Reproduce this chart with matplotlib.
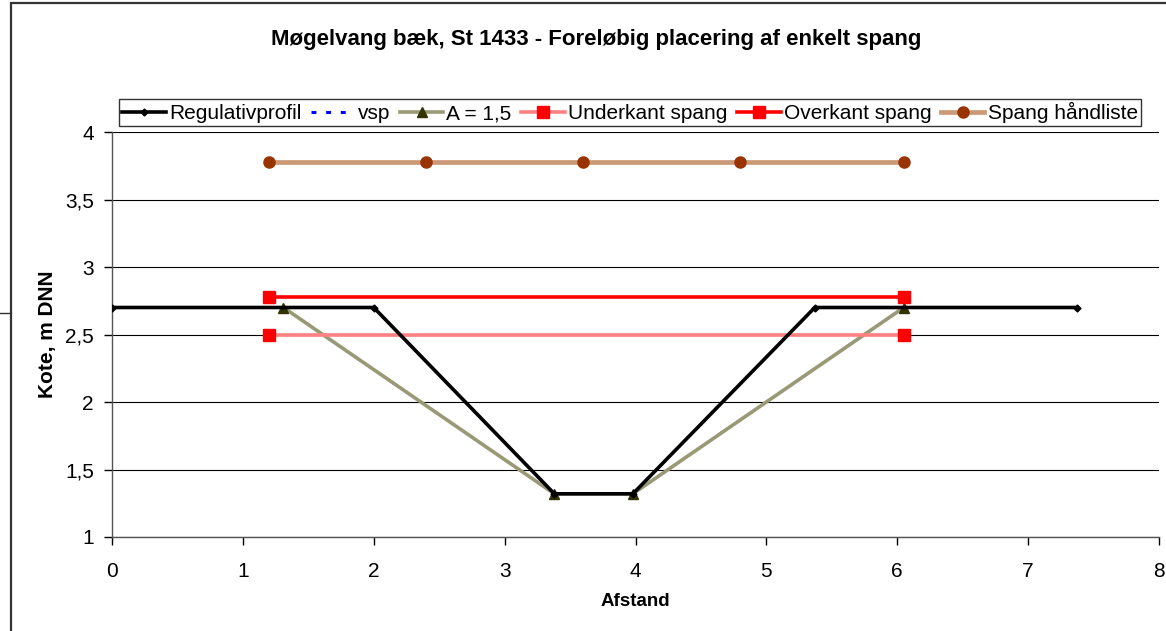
import matplotlib
matplotlib.use("Agg")
import matplotlib.pyplot as plt
from matplotlib.lines import Line2D
from matplotlib.patches import Rectangle

plt.rcParams['font.family'] = ['Liberation Sans', 'DejaVu Sans']

title = "Møgelvang bæk, St 1433 - Foreløbig placering af enkelt spang"
xlabel = "Afstand"
ylabel = "Kote, m DNN"

reg_x = [0, 2.0, 3.38, 3.98, 5.37, 7.37]
reg_y = [2.7, 2.7, 1.32, 1.32, 2.7, 2.7]

vsp_x = []
vsp_y = []

a_x = [1.31, 3.38, 3.98, 6.05]
a_y = [2.7, 1.32, 1.32, 2.7]

under_x = [1.2, 6.05]
under_y = [2.5, 2.5]

over_x = [1.2, 6.05]
over_y = [2.78, 2.78]

hand_x = [1.2, 2.4, 3.6, 4.8, 6.05]
hand_y = [3.78, 3.78, 3.78, 3.78, 3.78]

x_ticks = [0, 1, 2, 3, 4, 5, 6, 7, 8]
y_ticks = [1, 1.5, 2, 2.5, 3, 3.5, 4]
y_labels = ["1", "1,5", "2", "2,5", "3", "3,5", "4"]

W, H = 1166, 631
fig = plt.figure(figsize=(W / 100, H / 100), dpi=100)
ax = fig.add_axes([112 / W, 1 - 537 / H, (1159 - 112) / W, (537 - 132) / H])

# chart area border
fig.add_artist(Rectangle((11 / W, -0.1), 1.2, 1 - 3 / H + 0.1, transform=fig.transFigure,
                         fill=False, edgecolor='#333333', linewidth=1.6, zorder=0))
fig.add_artist(Line2D([0, 11 / W], [1 - 313 / H, 1 - 313 / H], transform=fig.transFigure,
                      color='#333333', linewidth=1.0))

ax.plot(reg_x, reg_y, color='black', linewidth=2.6, marker='D', markersize=3.5,
        label='Regulativprofil', zorder=4)
ax.plot(vsp_x, vsp_y, color='#0000FF', linewidth=2.2, linestyle=(0, (1.6, 3.2)),
        label='vsp', zorder=3)
ax.plot(a_x, a_y, color='#999977', linewidth=2.6, marker='^', markersize=7,
        markerfacecolor='#333300', markeredgecolor='#333300', label='A = 1,5', zorder=3)
ax.plot(under_x, under_y, color='#FF8080', linewidth=2.6, marker='s', markersize=8,
        markerfacecolor='#FF0000', markeredgecolor='#FF0000', label='Underkant spang', zorder=3)
ax.plot(over_x, over_y, color='#FF0000', linewidth=2.6, marker='s', markersize=8,
        markerfacecolor='#FF0000', markeredgecolor='#FF0000', label='Overkant spang', zorder=3)
ax.plot(hand_x, hand_y, color='#CC9977', linewidth=3.4, marker='o', markersize=8,
        markerfacecolor='#993300', markeredgecolor='#993300', label='Spang håndliste', zorder=3)

ax.set_xlim(0, 8)
ax.set_ylim(1, 4)
ax.set_xticks(x_ticks)
ax.set_yticks(y_ticks)
ax.set_yticklabels(y_labels)
ax.tick_params(axis='both', direction='out', length=6, width=1, labelsize=15, colors='black')
ax.tick_params(axis='y', pad=7)
ax.tick_params(axis='x', pad=12)
ax.grid(axis='y', color='black', linewidth=0.8)
ax.set_axisbelow(True)
for s in ['top', 'right']:
    ax.spines[s].set_visible(False)
for s in ['left', 'bottom']:
    ax.spines[s].set_color('#555555')
    ax.spines[s].set_linewidth(1)

ax.set_xlabel(xlabel, fontsize=13.5, fontweight='bold', labelpad=9)
ax.set_ylabel(ylabel, fontsize=15, fontweight='bold', labelpad=5.5)

fig.text(596 / W, 1 - 40 / H, title, ha='center', va='center', fontsize=16, fontweight='bold')

leg = fig.legend(loc='center', bbox_to_anchor=(630 / W, 1 - 112.5 / H), ncol=6, fontsize=15,
                 frameon=True, fancybox=False, edgecolor='black', handlelength=2.1,
                 handletextpad=0.15, columnspacing=0.45, borderpad=0.15, borderaxespad=0)
leg.get_frame().set_linewidth(1.0)

fig.savefig('out.png', dpi=100)
